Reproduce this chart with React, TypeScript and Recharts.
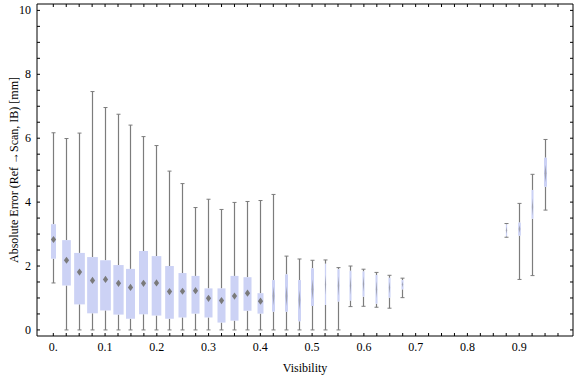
import React from 'react';
import { ComposedChart, Bar, XAxis, YAxis } from 'recharts';

// visibility bins that hold data (0.7 – 0.85 are empty)
const visibility = [
  0, 0.025, 0.05, 0.075, 0.1, 0.125, 0.15, 0.175, 0.2, 0.225, 0.25, 0.275, 0.3, 0.325,
  0.35, 0.375, 0.4, 0.425, 0.45, 0.475, 0.5, 0.525, 0.55, 0.575, 0.6, 0.625, 0.65, 0.675,
  0.875, 0.9, 0.925, 0.95,
];
const whiskerLow = [
  1.47, 0, 0, 0, 0, 0, 0, 0, 0, 0, 0, 0, 0, 0,
  0, 0, 0, 0, 0, 0, 0, 0, 0, 0.73, 0.74, 0.71, 0.68, 1.01,
  2.9, 1.58, 1.7, 3.75,
];
const quartileLow = [
  2.23, 1.39, 0.8, 0.52, 0.61, 0.48, 0.35, 0.49, 0.45, 0.35, 0.39, 0.51, 0.39, 0.23,
  0.29, 0.6, 0.51, 0.57, 0.57, 0.27, 0.75, 0.78, 0.89, 0.92, 1.04, 0.82, 1.01, 1.27,
  2.93, 2.95, 3.48, 4.48,
];
const medians = [
  2.83, 2.18, 1.81, 1.55, 1.58, 1.46, 1.33, 1.46, 1.47, 1.2, 1.21, 1.23, 0.99, 0.92,
  1.06, 1.15, 0.9, 1.06, 1.06, 0.94, 1.27, 1.41, 1.38, 1.38, 1.44, 1.27, 1.32, 1.42,
  3.12, 3.16, 3.85, 4.9,
];
const quartileHigh = [
  3.31, 2.81, 2.41, 2.28, 2.18, 2.03, 1.91, 2.47, 2.31, 2.0, 1.78, 1.69, 1.3, 1.3,
  1.69, 1.65, 1.15, 1.56, 1.74, 1.56, 1.93, 2.07, 1.9, 1.85, 1.83, 1.72, 1.63, 1.56,
  3.3, 3.36, 4.38, 5.39,
];
const whiskerHigh = [
  6.17, 5.99, 6.16, 7.46, 6.96, 6.75, 6.41, 6.05, 5.77, 4.97, 4.58, 3.83, 4.09, 3.77,
  3.99, 4.02, 4.05, 4.24, 2.31, 2.22, 2.18, 2.19, 1.95, 2.0, 1.9, 1.8, 1.71, 1.62,
  3.33, 3.96, 4.87, 5.96,
];
// relative sample share of each bin (drives the box width)
const binWeight = [
  0.47, 0.81, 1, 1, 1, 0.96, 0.84, 0.84, 0.9, 0.81, 0.75, 0.75, 0.75, 0.75,
  0.75, 0.75, 0.56, 0.28, 0.28, 0.28, 0.28, 0.12, 0.21, 0.19, 0.19, 0.19, 0.19, 0.19,
  0.12, 0.25, 0.19, 0.28,
];

const xMajorTicks = [0, 0.1, 0.2, 0.3, 0.4, 0.5, 0.6, 0.7, 0.8, 0.9];
const xTickLabels = ['0.', '0.1', '0.2', '0.3', '0.4', '0.5', '0.6', '0.7', '0.8', '0.9'];
const yMajorTicks = [0, 2, 4, 6, 8, 10];

const data = visibility.map((v, i) => ({
  v,
  min: whiskerLow[i],
  q1: quartileLow[i],
  med: medians[i],
  q3: quartileHigh[i],
  max: whiskerHigh[i],
  weight: binWeight[i],
}));

const xTicks = Array.from({ length: 40 }, (_, k) => Math.round(k * 25) / 1000);
const yTicks = Array.from({ length: 21 }, (_, k) => k / 2);

const FONT = '"Liberation Serif", "Times New Roman", serif';
const WHISKER = '#7c7c7c';
const BOX = '#ccd2f5';
const MAX_BOX = 10.7;

const BoxShape = (props: any) => {
  const { x, y, width, height, payload } = props;
  const cx = Math.round(x + width / 2) + 0.5;
  const base = y + height;
  const k = height / payload.max;
  const py = (val: number) => base - val * k;
  const bw = MAX_BOX * payload.weight;
  const top = py(payload.q3);
  const bot = py(payload.q1);
  const my = py(payload.med);
  const narrow = bw < 4;
  const dw = narrow ? Math.max(0.6, bw * 0.3) : 2.6;
  const dh = narrow ? Math.min(10, (bot - top) * 0.3) : 3.6;
  return (
    <g>
      <line x1={cx} x2={cx} y1={py(payload.max)} y2={top} stroke={WHISKER} strokeWidth={1.2} />
      <line x1={cx} x2={cx} y1={bot} y2={py(payload.min)} stroke={WHISKER} strokeWidth={1.2} />
      <line x1={cx - 2} x2={cx + 2} y1={py(payload.max)} y2={py(payload.max)} stroke={WHISKER} />
      <line x1={cx - 2} x2={cx + 2} y1={py(payload.min)} y2={py(payload.min)} stroke={WHISKER} />
      <rect x={cx - bw / 2} y={top} width={bw} height={Math.max(1, bot - top)} fill={BOX} />
      <polygon
        points={`${cx},${my - dh} ${cx + dw},${my} ${cx},${my + dh} ${cx - dw},${my}`}
        fill="#7a7a7a"
        fillOpacity={narrow ? 0.55 : 1}
      />
    </g>
  );
};

const BottomTick = (props: any) => {
  const { x, y, payload } = props;
  const idx = Math.round(payload.value * 40);
  const major = idx % 4 === 0 ? xMajorTicks.indexOf(idx / 40) : -1;
  return (
    <g>
      <line x1={x} x2={x} y1={y} y2={y - 3} stroke="#000" />
      {major >= 0 && (
        <text x={x} y={y + 15} textAnchor="middle" fontSize={12} fontFamily={FONT} fill="#000">
          {xTickLabels[major]}
        </text>
      )}
    </g>
  );
};

const TopTick = (props: any) => {
  const { x, y } = props;
  return <line x1={x} x2={x} y1={y} y2={y + 3} stroke="#000" />;
};

const LeftTick = (props: any) => {
  const { x, y, payload } = props;
  const label = yMajorTicks.includes(payload.value);
  return (
    <g>
      <line x1={x} x2={x + 3} y1={y} y2={y} stroke="#000" />
      {label && (
        <text x={x - 6} y={y + 4} textAnchor="end" fontSize={12} fontFamily={FONT} fill="#000">
          {payload.value}
        </text>
      )}
    </g>
  );
};

const RightTick = (props: any) => {
  const { x, y } = props;
  return <line x1={x} x2={x - 3} y1={y} y2={y} stroke="#000" />;
};

export default function App() {
  return (
    <div style={{ position: 'absolute', left: 0, top: 0, width: 576, height: 377, background: '#fff' }}>
      <ComposedChart
        width={576}
        height={377}
        data={data}
        margin={{ top: 3, right: 2, bottom: 0, left: 0 }}
      >
        <XAxis
          xAxisId="b"
          dataKey="v"
          type="number"
          domain={[-0.0315, 1.004]}
          allowDataOverflow
          ticks={xTicks}
          interval={0}
          tickSize={0}
          tickMargin={0}
          height={41}
          axisLine={{ stroke: '#000' }}
          tick={<BottomTick />}
        />
        <XAxis
          xAxisId="t"
          orientation="top"
          dataKey="v"
          type="number"
          domain={[-0.0315, 1.004]}
          allowDataOverflow
          ticks={xTicks}
          interval={0}
          tickSize={0}
          tickMargin={0}
          height={1}
          axisLine={{ stroke: '#000' }}
          tick={<TopTick />}
        />
        <YAxis
          yAxisId="l"
          type="number"
          domain={[-0.19, 10.2]}
          allowDataOverflow
          ticks={yTicks}
          interval={0}
          tickSize={0}
          tickMargin={0}
          width={37}
          axisLine={{ stroke: '#000' }}
          tick={<LeftTick />}
        />
        <YAxis
          yAxisId="r"
          orientation="right"
          type="number"
          domain={[-0.19, 10.2]}
          allowDataOverflow
          ticks={yTicks}
          interval={0}
          tickSize={0}
          tickMargin={0}
          width={1}
          axisLine={{ stroke: '#000' }}
          tick={<RightTick />}
        />
        <Bar
          xAxisId="b"
          yAxisId="l"
          dataKey="max"
          barSize={12}
          shape={<BoxShape />}
          isAnimationActive={false}
        />
      </ComposedChart>
      <div
        style={{
          position: 'absolute',
          left: 14,
          top: 170,
          transform: 'translate(-50%, -50%) rotate(-90deg)',
          whiteSpace: 'nowrap',
          fontFamily: FONT,
          fontSize: 12,
          color: '#000',
        }}
      >
        Absolute Error (Ref →Scan, IB) [mm]
      </div>
      <div
        style={{
          position: 'absolute',
          left: 305,
          top: 368,
          transform: 'translate(-50%, -50%)',
          whiteSpace: 'nowrap',
          fontFamily: FONT,
          fontSize: 12,
          color: '#000',
        }}
      >
        Visibility
      </div>
    </div>
  );
}
